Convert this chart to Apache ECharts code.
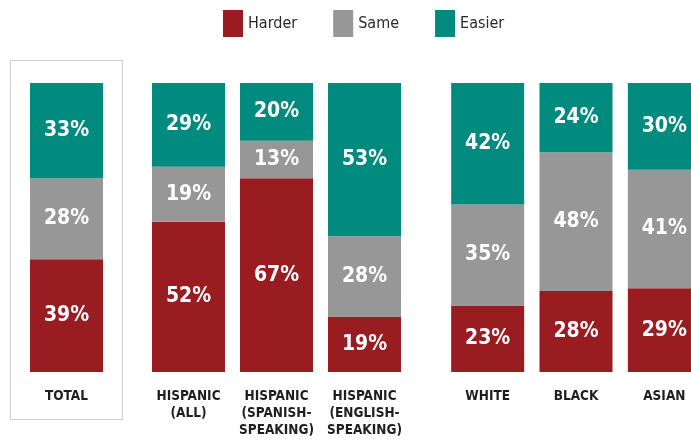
<!DOCTYPE html>
<html>
<head>
<meta charset="utf-8">
<script src="https://cdn.jsdelivr.net/npm/echarts@6/dist/echarts.min.js"></script>
<style>
  html, body { margin: 0; padding: 0; background: #fff; }
  #chart { width: 691px; height: 444px; }
</style>
</head>
<body>
<div id="chart"></div>
<script>
// groups of bars, each drawn in its own grid
const groupTotal = ["TOTAL"];
const groupHispanic = ["HISPANIC\n(ALL)", "HISPANIC\n(SPANISH-\nSPEAKING)", "HISPANIC\n(ENGLISH-\nSPEAKING)"];
const groupRace = ["WHITE", "BLACK", "ASIAN"];

const harderTotal = [39];
const sameTotal = [28];
const easierTotal = [33];

const harderHispanic = [52, 67, 19];
const sameHispanic = [19, 13, 28];
const easierHispanic = [29, 20, 53];

const harderRace = [23, 28, 29];
const sameRace = [35, 48, 41];
const easierRace = [42, 24, 30];

const seriesNames = ["Harder", "Same", "Easier"];
const colors = ["#981c20", "#979797", "#008b7e"];

const chart = echarts.init(document.getElementById("chart"), null, { renderer: "canvas" });

const FONT = "'DejaVu Sans Condensed', 'DejaVu Sans', sans-serif";

const grids = [
  { left: 22.5, width: 88, top: 83, bottom: 72, outerBoundsMode: "none", containLabel: false },
  { left: 144.5, width: 264, top: 83, bottom: 72, outerBoundsMode: "none", containLabel: false },
  { left: 443.5, width: 265, top: 83, bottom: 72, outerBoundsMode: "none", containLabel: false }
];

const groups = [groupTotal, groupHispanic, groupRace];
const dataByGroup = [
  [harderTotal, sameTotal, easierTotal],
  [harderHispanic, sameHispanic, easierHispanic],
  [harderRace, sameRace, easierRace]
];

const xAxes = groups.map((cats, i) => ({
  type: "category",
  gridIndex: i,
  data: cats,
  axisLine: { show: false },
  axisTick: { show: false },
  axisLabel: {
    interval: 0,
    margin: 16,
    color: "#1e1e1e",
    fontFamily: FONT,
    fontWeight: "bold",
    fontSize: 13.5,
    lineHeight: 17,
    verticalAlign: "top"
  }
}));

const yAxes = groups.map((_, i) => ({
  type: "value",
  gridIndex: i,
  min: 0,
  max: 100,
  show: false
}));

const series = [];
dataByGroup.forEach((sets, g) => {
  sets.forEach((values, s) => {
    series.push({
      name: seriesNames[s],
      type: "bar",
      stack: "g" + g,
      xAxisIndex: g,
      yAxisIndex: g,
      barWidth: 73,
      data: values,
      itemStyle: { color: colors[s] },
      label: {
        show: true,
        position: "inside",
        formatter: "{c}%",
        color: "#fff",
        fontFamily: FONT,
        fontWeight: "bold",
        fontSize: 21
      }
    });
  });
});

chart.setOption({
  animation: false,
  backgroundColor: "#fff",
  legend: {
    top: 5,
    left: 218,
    icon: "rect",
    itemWidth: 20,
    itemHeight: 27,
    itemGap: 36,
    data: seriesNames,
    textStyle: {
      color: "#2a2a2a",
      fontFamily: FONT,
      fontSize: 16
    }
  },
  graphic: [
    {
      type: "rect",
      shape: { x: 10.5, y: 60.5, width: 112, height: 359 },
      style: { fill: "none", stroke: "#cfcfcf", lineWidth: 1 },
      silent: true
    }
  ],
  grid: grids,
  xAxis: xAxes,
  yAxis: yAxes,
  series
});
</script>
</body>
</html>
